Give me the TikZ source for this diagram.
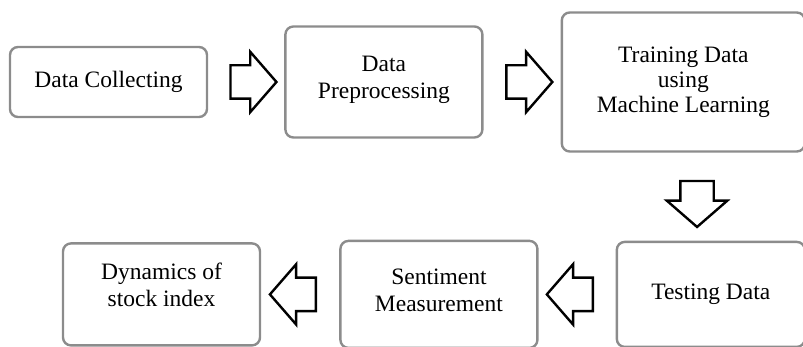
\documentclass[tikz,border=0pt]{standalone}
\usepackage{fontspec}
\setmainfont{Liberation Serif}
\usetikzlibrary{shapes.arrows, positioning, calc}

\begin{document}
\begin{tikzpicture}[
  x=1pt, y=1pt,
  node distance=76pt,
  block/.style={rectangle, draw=black!45, line width=2.4pt, rounded corners=8pt, minimum width=197pt, align=center, font=\fontsize{23.5}{27}\selectfont},
  flow/.style={single arrow, draw, line width=2.4pt, fill=white, inner xsep=0pt, inner ysep=15.5pt, minimum height=46pt, single arrow head extend=13.5pt, single arrow tip angle=98},
]
  \useasboundingbox (0,0) rectangle (803,347);
  \node[block, minimum height=70pt] (collect) at (108.5,265) {Data Collecting};
  \node[block, minimum height=111pt, right=of collect, text depth=9pt] (prep) {Data\\Preprocessing};
  \node[block, minimum width=243pt, minimum height=139pt, right=77pt of prep, font=\fontsize{23.5}{25}\selectfont] (train) {Training Data\\using\\Machine Learning};
  \node[block, minimum width=188pt, minimum height=105pt, below=88pt of train.south east, anchor=north east] (test) {Testing Data};
  \node[block, minimum height=107pt, left=77pt of test, text depth=9pt] (senti) {Sentiment\\Measurement};
  \node[block, minimum height=102pt, left=78pt of senti, text depth=20pt] (dyn) {Dynamics of\\stock index};

  \node[flow] (a1) at ($(collect.east)!0.5!(prep.west)$) {};
  \node[flow] (a2) at ($(prep.east)!0.5!(train.west)$) {};
  \node[flow, rotate=-90] (a3) at ($(train.south)!0.5!(test.north)$) {};
  \node[flow, rotate=180] (a4) at ($(test.west)!0.5!(senti.east)$) {};
  \node[flow, rotate=180] (a5) at ($(senti.west)!0.5!(dyn.east)$) {};
\end{tikzpicture}
\end{document}
